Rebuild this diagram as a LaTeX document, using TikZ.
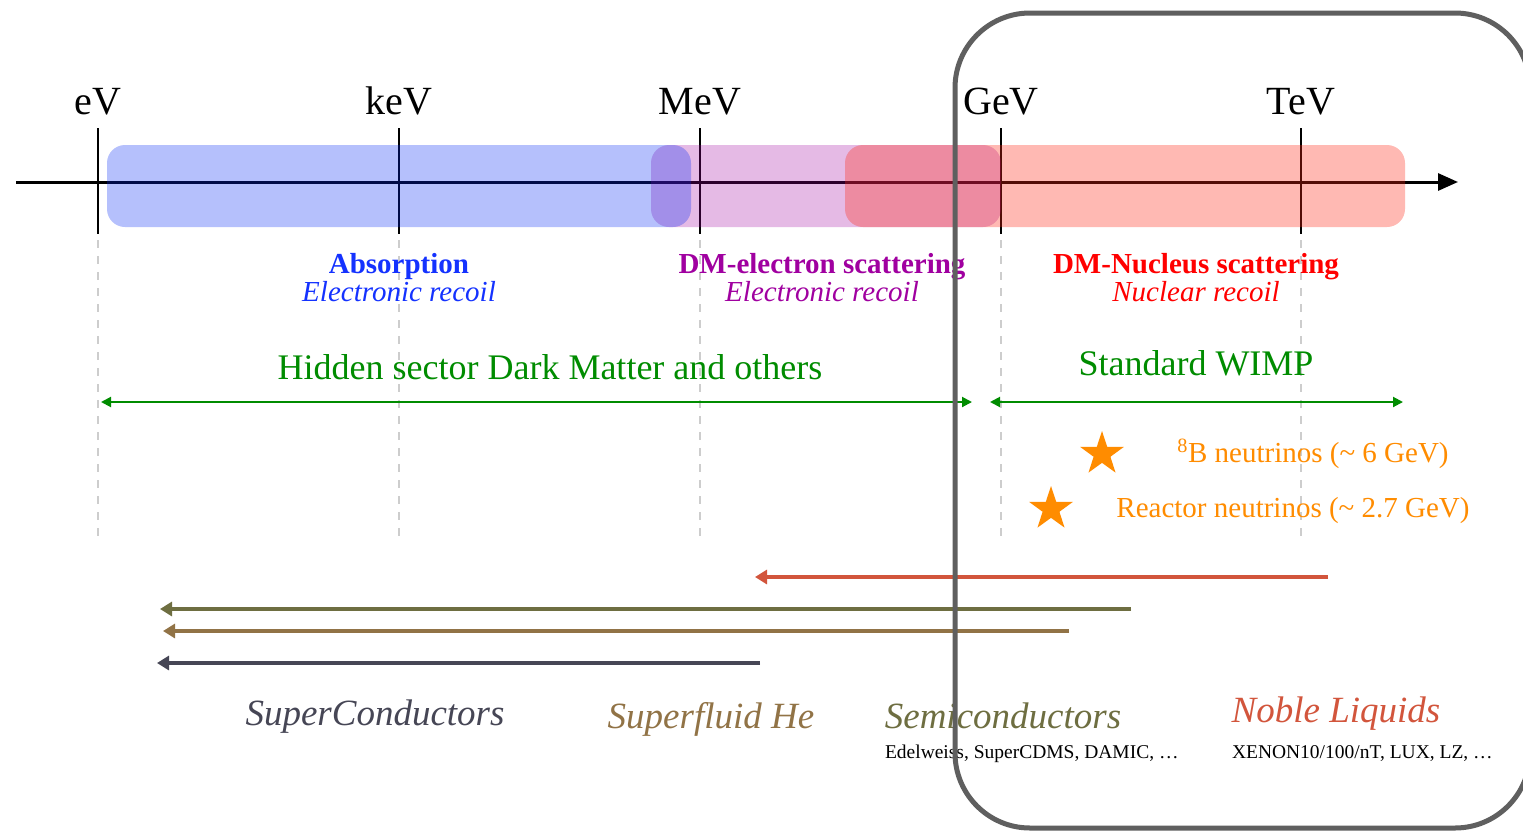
\documentclass[tikz,border=0pt]{standalone}
\usepackage{fontspec}
\setmainfont{Liberation Serif}
\usetikzlibrary{arrows.meta,shapes.geometric}
\definecolor{absblue}{RGB}{20,50,255}
\definecolor{dmpurple}{RGB}{160,0,160}
\definecolor{dmred}{RGB}{255,0,0}
\definecolor{wgreen}{RGB}{0,140,0}
\definecolor{nuorange}{RGB}{255,140,0}
\definecolor{noblec}{RGB}{210,85,60}
\definecolor{semic}{RGB}{110,110,65}
\definecolor{sfhec}{RGB}{145,115,70}
\definecolor{supc}{RGB}{70,70,85}
\definecolor{boxgray}{RGB}{95,95,95}
\definecolor{guidegray}{RGB}{205,205,205}
\tikzset{
  fs/.style={font=\fontsize{#1}{#1}\selectfont},
  txt/.style={anchor=base, inner sep=0pt, outer sep=0pt},
  axislabel/.style={txt, fs=40},
  ticklinestyle/.style={draw=black, line width=1.3pt},
  guideline/.style={draw=guidegray, line width=1.5pt, dash pattern=on 8pt off 8pt},
  band/.style={rounded corners=18pt},
  blueband/.style={band, fill={rgb,255:red,0;green,40;blue,245}, fill opacity=0.29},
  purpleband/.style={band, fill={rgb,255:red,160;green,0;blue,160}, fill opacity=0.27},
  redband/.style={band, fill={rgb,255:red,255;green,40;blue,20}, fill opacity=0.32},
  title/.style={txt, font=\fontsize{29}{29}\selectfont\bfseries},
  subtitle/.style={txt, font=\fontsize{29}{29}\selectfont\itshape},
  greentext/.style={txt, fs=36, text=wgreen},
  greenarrow/.style={draw=wgreen, line width=2pt, {Triangle[length=10pt,width=10pt]}-{Triangle[length=10pt,width=10pt]}},
  nutext/.style={txt, fs=29, text=nuorange},
  nustar/.style={star, star points=5, star point ratio=2.6, fill=nuorange, draw=none, minimum size=46pt, inner sep=0pt},
  botarrow/.style={line width=3.5pt, -{Triangle[length=12pt,width=14pt]}},
  techlabel/.style={txt, font=\fontsize{37}{37}\selectfont\itshape},
  explabel/.style={txt, fs=19.5, text=black},
}
\begin{document}
\begin{tikzpicture}[x=1pt,y=-1pt]
\useasboundingbox (0,0) rectangle (1523,833);
\clip (0,0) rectangle (1523,833);
\fill[white] (0,0) rectangle (1523,833);

% axis
\coordinate (axstart) at (16,182);
\coordinate (axend) at (1458,182);
\draw[line width=3pt, -{Triangle[length=20pt,width=17pt]}] (axstart) -- (axend);

% ticks, guides, labels
\foreach \n/\x in {eV/98, keV/399, MeV/700, GeV/1001, TeV/1301}{
  \coordinate (top-\n) at (\x,128);
  \coordinate (bot-\n) at (\x,234);
  \coordinate (gs-\n) at (\x,240);
  \coordinate (end-\n) at (\x,540);
  \draw[ticklinestyle] (top-\n) -- (bot-\n);
  \draw[guideline] (gs-\n) -- (end-\n);
  \node[axislabel] (lab-\n) at (\x,114) {\n};
}

% bands
\fill[purpleband] (651,145) rectangle (1001,227);
\fill[blueband] (107,145) rectangle (691,227);
\fill[redband] (845,145) rectangle (1405,227);

% process titles
\node[title, text=absblue] (abs) at (399,273) {Absorption};
\node[subtitle, text=absblue] (absrec) at (399,301) {Electronic recoil};
\node[title, text=dmpurple] (dme) at (822,273) {DM-electron scattering};
\node[subtitle, text=dmpurple] (dmerec) at (822,301) {Electronic recoil};
\node[title, text=dmred] (dmn) at (1196,273) {DM-Nucleus scattering};
\node[subtitle, text=dmred] (dmnrec) at (1196,301) {Nuclear recoil};

% model ranges
\node[greentext] (hidden) at (550,379) {Hidden sector Dark Matter and others};
\node[greentext] (wimp) at (1196,375) {Standard WIMP};
\coordinate (hl) at (101,402);
\coordinate (hr) at (972,402);
\coordinate (wl) at (990,402);
\coordinate (wr) at (1403,402);
\draw[greenarrow] (hl) -- (hr);
\draw[greenarrow] (wl) -- (wr);

% neutrino floors
\node[nustar] (star8b) at (1102,454) {};
\node[nustar] (starre) at (1051,509) {};
\node[nutext] (nu8b) at (1313,462) {\textsuperscript{8}B neutrinos (\textasciitilde\ 6 GeV)};
\node[nutext] (nure) at (1293,517) {Reactor neutrinos (\textasciitilde\ 2.7 GeV)};

% technology ranges
\coordinate (nob-s) at (1328,577);  \coordinate (nob-e) at (755,577);
\coordinate (sem-s) at (1131,609);  \coordinate (sem-e) at (160,609);
\coordinate (sfh-s) at (1069,631);  \coordinate (sfh-e) at (163,631);
\coordinate (sup-s) at (760,663);   \coordinate (sup-e) at (157,663);
\draw[botarrow, draw=noblec, fill=noblec] (nob-s) -- (nob-e);
\draw[botarrow, draw=semic, fill=semic] (sem-s) -- (sem-e);
\draw[botarrow, draw=sfhec, fill=sfhec] (sfh-s) -- (sfh-e);
\draw[botarrow, draw=supc, fill=supc] (sup-s) -- (sup-e);

% technology labels
\node[techlabel, text=supc] (supl) at (375,725) {SuperConductors};
\node[techlabel, text=sfhec] (sfhl) at (711,728) {Superfluid He};
\node[techlabel, text=semic] (seml) at (1003,728) {Semiconductors};
\node[explabel, anchor=base west] (seme) at (885,758) {Edelweiss, SuperCDMS, DAMIC, …};
\node[techlabel, text=noblec] (nobl) at (1336,722) {Noble Liquids};
\node[explabel, anchor=base west] (nobe) at (1232,758) {XENON10/100/nT, LUX, LZ, …};

% highlight frame
\draw[draw=boxgray, line width=5pt, rounded corners=75pt] (955,13) rectangle (1530,828);
\end{tikzpicture}
\end{document}
